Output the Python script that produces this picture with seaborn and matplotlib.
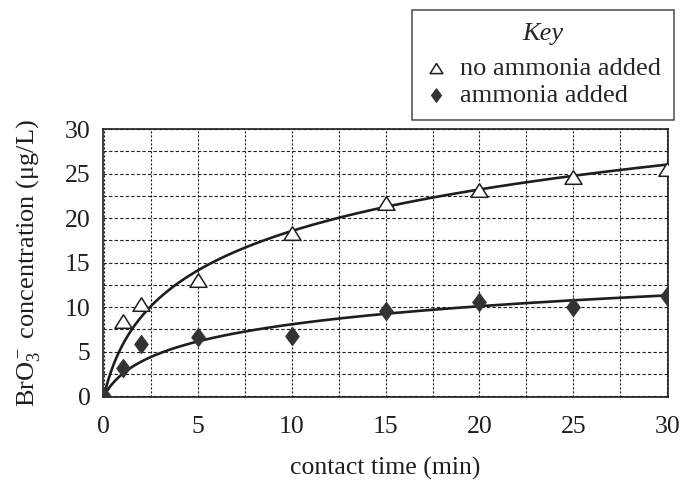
import numpy as np
import pandas as pd
import matplotlib
matplotlib.use("Agg")
import matplotlib.pyplot as plt
from matplotlib.ticker import MultipleLocator
import seaborn as sns

# Measured bromate concentration versus ozone contact time
contact_time = [0, 1, 2, 5, 10, 15, 20, 25, 30]
no_ammonia = [0.0, 8.4, 10.3, 13.1, 18.3, 21.7, 23.2, 24.6, 25.5]
with_ammonia = [0.0, 3.1, 5.9, 6.6, 6.7, 9.6, 10.6, 10.0, 11.2]
series_names = ["no ammonia added", "ammonia added"]
x_ticks = [0, 5, 10, 15, 20, 25, 30]
y_ticks = [0, 5, 10, 15, 20, 25, 30]

sns.set_style("white")
plt.rcParams["font.family"] = ["Liberation Serif", "DejaVu Serif"]
plt.rcParams["mathtext.fontset"] = "custom"
plt.rcParams["mathtext.rm"] = "Liberation Serif"
plt.rcParams["mathtext.it"] = "Liberation Serif:italic"

INK = "#1e1e1e"


def fit_log_curve(x, y, grid):
    """Least-squares fit of y = c * ln(1 + x/k), k >= 0.8; returns the trend curve."""
    x = np.asarray(x, float)
    y = np.asarray(y, float)
    best = None
    for k in np.linspace(0.8, 20, 2000):
        f = np.log1p(x / k)
        c = (f @ y) / (f @ f)
        sse = np.sum((y - c * f) ** 2)
        if best is None or sse < best[0]:
            best = (sse, c, k)
    _, c, k = best
    return c * np.log1p(grid / k)


t_fine = np.linspace(0, 30, 400)
points = pd.DataFrame({
    "time": contact_time * 2,
    "conc": no_ammonia + with_ammonia,
    "series": [series_names[0]] * len(contact_time) + [series_names[1]] * len(contact_time),
})
curves = pd.DataFrame({
    "time": np.concatenate([t_fine, t_fine]),
    "conc": np.concatenate([fit_log_curve(contact_time, no_ammonia, t_fine),
                            fit_log_curve(contact_time, with_ammonia, t_fine)]),
    "series": [series_names[0]] * len(t_fine) + [series_names[1]] * len(t_fine),
})

fig = plt.figure(figsize=(6.91, 4.80), dpi=100)
ax = fig.add_axes([0.149, 0.173, 0.818, 0.558])

sns.lineplot(data=curves, x="time", y="conc", units="series", estimator=None,
             color=INK, lw=1.9, ax=ax, legend=False, zorder=3)

tri = [(0, 0.8), (-1, -0.8), (1, -0.8), (0, 0.8)]
dia = [(0, 1), (0.74, 0), (0, -1), (-0.74, 0), (0, 1)]
sns.scatterplot(data=points[points.series == series_names[0]], x="time", y="conc",
                marker=tri, s=150, color="white", edgecolor=INK, linewidth=1.1,
                ax=ax, zorder=5, label=series_names[0])
sns.scatterplot(data=points[points.series == series_names[1]], x="time", y="conc",
                marker=dia, s=170, color="#333333", edgecolor="#333333", linewidth=0.8,
                ax=ax, zorder=5, label=series_names[1])

ax.set_xlim(-0.05, 30.05)
ax.set_ylim(-0.1, 30)
ax.set_xticks(x_ticks)
ax.set_yticks(y_ticks)
ax.xaxis.set_minor_locator(MultipleLocator(2.5))
ax.yaxis.set_minor_locator(MultipleLocator(2.5))
ax.grid(True, axis="y", which="both", color=INK, linestyle=(0, (3, 2)), linewidth=0.8)
ax.grid(True, axis="x", which="both", color=INK, linestyle=(0, (2, 1.6)), linewidth=0.8)
ax.set_axisbelow(True)

for sp in ax.spines.values():
    sp.set_color(INK)
    sp.set_linewidth(1.2)

ax.tick_params(axis="x", which="major", direction="out", length=9, width=1.1,
               colors=INK, labelsize=18.5, pad=5)
ax.tick_params(axis="x", which="minor", direction="out", length=7, width=1.0, colors=INK)
ax.tick_params(axis="y", which="major", direction="inout", length=14, width=1.1,
               colors=INK, labelsize=18.5, pad=2)
ax.tick_params(axis="y", which="minor", direction="inout", length=8, width=1.0, colors=INK)

ax.set_xlabel("contact time (min)", fontsize=18.5, color=INK, labelpad=13)
ax.set_ylabel(r"BrO$_3^-$ concentration (μg/L)", fontsize=19, color=INK, labelpad=16)

handles, labels = ax.get_legend_handles_labels()
if ax.legend_ is not None:
    ax.legend_.remove()
leg = fig.legend(handles, labels, loc="upper right", bbox_to_anchor=(0.975, 0.979),
                 title="Key", fontsize=19, title_fontsize=19, frameon=True,
                 fancybox=False, edgecolor=INK, borderpad=0.5, handletextpad=0.5,
                 labelspacing=0.15, handlelength=0.8, markerscale=0.75,
                 borderaxespad=0.0)
leg.get_title().set_fontstyle("italic")
leg.get_frame().set_linewidth(1.1)
# more room between the "Key" heading and the entries
leg._legend_box.sep = 8

fig.savefig("out.png", dpi=100, facecolor="white")
